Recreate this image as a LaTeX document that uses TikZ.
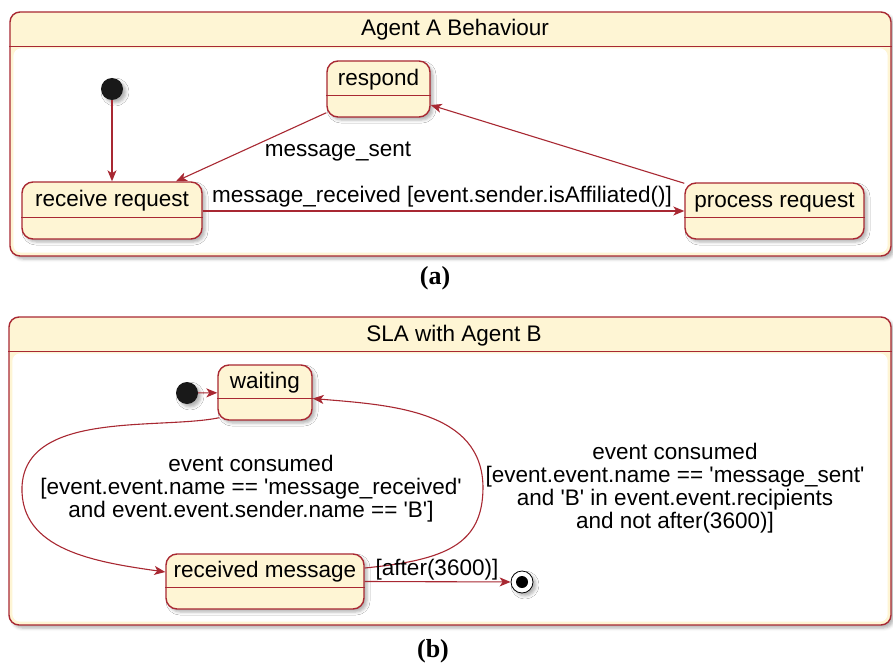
\documentclass[tikz,border=0pt]{standalone}
\usepackage{fontspec}
\setmainfont{Liberation Sans}
\newfontfamily\captionserif{Liberation Serif}
\usetikzlibrary{arrows.meta,shadows.blur,calc}
\definecolor{umlred}{HTML}{A82832}
\definecolor{umlfill}{HTML}{FEF5D4}
\newcommand\sq{\textquotesingle}

\begin{document}
\begin{tikzpicture}[x=1pt,y=-1pt,
  txt/.style={font=\fontsize{22.5}{23}\selectfont, inner sep=0pt, text=black},
  softshadow/.style={blur shadow={shadow xshift=3pt, shadow yshift=-3pt, shadow blur radius=3pt, shadow opacity=30}},
  panel/.style={draw=umlred, line width=1.4pt, fill=umlfill, rounded corners=10pt, inner sep=0pt, softshadow},
  statebox/.style={draw=umlred, line width=1.4pt, fill=umlfill, rounded corners=11pt, inner sep=0pt, softshadow},
  divider/.style={draw=umlred, line width=1.4pt},
  trans/.style={draw=umlred, line width=1.1pt, -{Stealth[length=11pt,width=9pt,inset=3pt]}},
  initdot/.style={circle, fill=black!90, minimum size=22pt, inner sep=0pt, softshadow},
  finaldot/.style={circle, draw=black, line width=0.8pt, fill=white, minimum size=22pt, inner sep=0pt, softshadow},
  capt/.style={font=\captionserif\bfseries\fontsize{26}{28}\selectfont, inner sep=0pt},
]
\useasboundingbox (0,0) rectangle (893,663);

% ---------- (a) Agent A Behaviour ----------
\node[panel, minimum width=881pt, minimum height=244pt] (panelA) at (450.5,134) {};
\fill[white, rounded corners=8pt] ([shift={(4pt,-37pt)}]panelA.north west) rectangle ([shift={(-4pt,4pt)}]panelA.south east);
\draw[divider] ([yshift=-35pt]panelA.north west) -- ([yshift=-35pt]panelA.north east);
\node[txt, anchor=base] (titleA) at (455,36) {Agent A Behaviour};

\node[statebox, minimum width=103pt, minimum height=56pt] (respond) at (378.5,89) {};
\node[statebox, minimum width=180pt, minimum height=57pt] (receive) at (112,210.5) {};
\node[statebox, minimum width=179pt, minimum height=56pt] (process) at (774.5,211) {};
\draw[divider] ([yshift=-35pt]respond.north west) -- ([yshift=-35pt]respond.north east);
\draw[divider] ([yshift=-36pt]receive.north west) -- ([yshift=-36pt]receive.north east);
\draw[divider] ([yshift=-35pt]process.north west) -- ([yshift=-35pt]process.north east);
\node[txt, anchor=base] (respondtxt) at ([yshift=-25pt]respond.north) {respond};
\node[txt, anchor=base] (receivetxt) at ([yshift=-25pt]receive.north) {receive request};
\node[txt, anchor=base] (processtxt) at ([yshift=-25pt]process.north) {process request};

\node[initdot] (initA) at (112,89) {};

\draw[trans] (initA) -- (receive);
\draw[trans] (respond) -- (receive);
\draw[trans] (receive.east |- 0,211) -- (process.west |- 0,211);
\draw[trans] (process) -- (respond);

\node[txt, anchor=base] (lblsent) at (338,157) {message\_sent};
\node[txt, anchor=base] (lblrecv) at (442,202) {message\_received [event.sender.isAffiliated()]};

\node[capt, anchor=base] (capA) at (435,284) {(a)};

% ---------- (b) SLA with Agent B ----------
\node[panel, minimum width=882pt, minimum height=308pt] (panelB) at (450,471) {};
\fill[white, rounded corners=8pt] ([shift={(4pt,-37pt)}]panelB.north west) rectangle ([shift={(-4pt,4pt)}]panelB.south east);
\draw[divider] ([yshift=-35pt]panelB.north west) -- ([yshift=-35pt]panelB.north east);
\node[txt, anchor=base] (titleB) at (454,341) {SLA with Agent B};

\node[statebox, minimum width=94pt, minimum height=55pt] (waiting) at (265,392.5) {};
\node[statebox, minimum width=198pt, minimum height=55pt] (received) at (265,581.5) {};
\draw[divider] ([yshift=-34pt]waiting.north west) -- ([yshift=-34pt]waiting.north east);
\draw[divider] ([yshift=-34pt]received.north west) -- ([yshift=-34pt]received.north east);
\node[txt, anchor=base] (waitingtxt) at ([yshift=-24pt]waiting.north) {waiting};
\node[txt, anchor=base] (receivedtxt) at ([yshift=-24pt]received.north) {received message};

\node[initdot] (initB) at (187,393) {};
\node[finaldot] (final) at (522,582) {};
\fill[black] (final) circle (6pt);

\draw[trans] (initB) -- (waiting);
\draw[trans] (received.east) -- (final);

\coordinate (wL) at ([shift={(2pt,3pt)}]waiting.south west);
\coordinate (rL) at ([yshift=9.5pt]received.west);
\coordinate (rR) at ([yshift=13.5pt]received.east);
\coordinate (wR) at ([yshift=-6pt]waiting.east);

\draw[trans] (wL) .. controls (160,430) and (25,410) .. (22,487)
                  .. controls (20,550) and (95,562) .. (rL);
\draw[trans] (rR) .. controls (445,560) and (483,545) .. (483,487)
                  .. controls (482,410) and (390,405) .. (wR);

\node[txt, anchor=base] (lblafter) at (437,575) {[after(3600)]};
% multi-line labels: the base anchor sits on the last line
\node[txt, anchor=base, align=center] (lblleft) at (251,517)
  {event consumed\\{}[event.event.name == \sq message\_received\sq\\and event.event.sender.name == \sq B\sq]};
\node[txt, anchor=base, align=center] (lblright) at (675,528)
  {event consumed\\{}[event.event.name == \sq message\_sent\sq\\and \sq B\sq{} in event.event.recipients\\and not after(3600)]};

\node[capt, anchor=base] (capB) at (433,657) {(b)};
\end{tikzpicture}
\end{document}
